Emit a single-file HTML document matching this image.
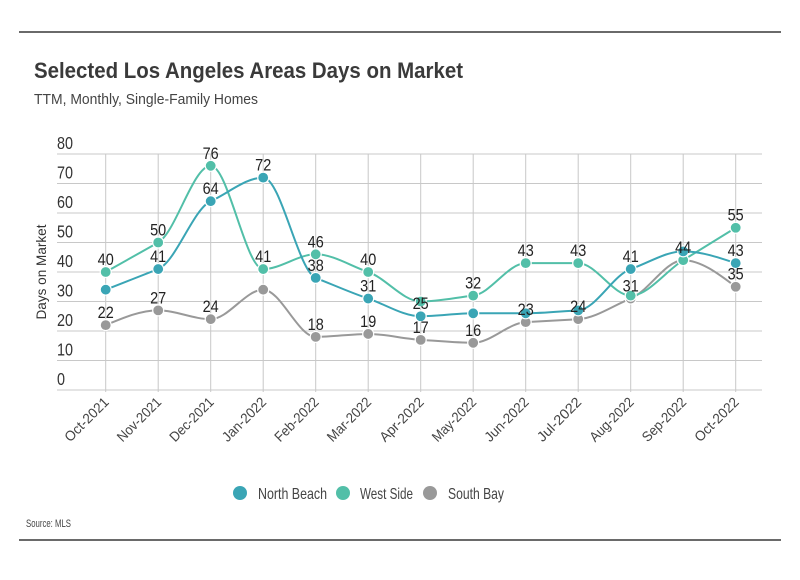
<!DOCTYPE html>
<html><head><meta charset="utf-8"><style>
body{margin:0;background:#fff;width:800px;height:575px;overflow:hidden}
svg text{font-family:"Liberation Sans Narrow","Liberation Sans",sans-serif}
</style></head><body>
<svg id="c" width="800" height="575">
<line x1="19" y1="32" x2="781" y2="32" stroke="#111" stroke-width="1.3"/>
<text x="34" y="78" font-size="22" font-weight="bold" fill="#3a3a3a" textLength="429" lengthAdjust="spacingAndGlyphs">Selected Los Angeles Areas Days on Market</text>
<text x="34" y="104" font-size="15" fill="#444" textLength="224" lengthAdjust="spacingAndGlyphs">TTM, Monthly, Single-Family Homes</text>
<text transform="translate(46,272) rotate(-90)" text-anchor="middle" font-size="14" fill="#333" textLength="95" lengthAdjust="spacingAndGlyphs">Days on Market</text>
<g id="grid"></g><g id="series"></g><g id="xl"></g>
<g>
<circle cx="240" cy="493" r="7" fill="#3aa5b5"/>
<text x="258" y="499" font-size="16" fill="#444" textLength="69" lengthAdjust="spacingAndGlyphs">North Beach</text>
<circle cx="343" cy="493" r="7" fill="#52bfa8"/>
<text x="360" y="499" font-size="16" fill="#444" textLength="53" lengthAdjust="spacingAndGlyphs">West Side</text>
<circle cx="430" cy="493" r="7" fill="#999"/>
<text x="448" y="499" font-size="16" fill="#444" textLength="56" lengthAdjust="spacingAndGlyphs">South Bay</text>
</g>
<text x="26" y="527" font-size="11" fill="#444" textLength="45" lengthAdjust="spacingAndGlyphs">Source:  MLS</text>
<line x1="19" y1="540" x2="781" y2="540" stroke="#111" stroke-width="1.3"/>
</svg>
<script>
const categories=["Oct-2021","Nov-2021","Dec-2021","Jan-2022","Feb-2022","Mar-2022","Apr-2022","May-2022","Jun-2022","Jul-2022","Aug-2022","Sep-2022","Oct-2022"];
const northBeach=[34,41,64,72,38,31,25,26,26,27,41,47,43];
const westSide=[40,50,76,41,46,40,30,32,43,43,32,44,55];
const southBay=[22,27,24,34,18,19,17,16,23,24,31,44,35];
const northBeachLabels=[null,41,64,72,38,31,25,null,null,null,41,null,43];
const westSideLabels=[40,50,76,41,46,40,null,32,43,43,null,null,55];
const southBayLabels=[22,27,24,null,18,19,17,16,23,24,31,44,35];
const yTicks=[0,10,20,30,40,50,60,70,80];
const NS="http://www.w3.org/2000/svg";
const x=i=>105.7+i*52.5;
const y=v=>390-v*2.95;
function mk(t,a,p){const e=document.createElementNS(NS,t);for(const k in a)e.setAttribute(k,a[k]);p.appendChild(e);return e;}
const grid=document.getElementById('grid');
yTicks.forEach(t=>{
 const l=mk('line',{x1:57,x2:762,y1:y(t),y2:y(t),stroke:'#c8c8c8','stroke-width':1},grid);
 
 
 const tx=mk('text',{x:57,y:y(t)-5,'font-size':18,fill:'#333',transform:`translate(57,0) scale(0.8,1) translate(-57,0)`},grid);tx.textContent=t;
 
 
});
const xl=document.getElementById('xl');
categories.forEach((c,i)=>{
 const l=mk('line',{x1:x(i),x2:x(i),y1:154,y2:392,stroke:'#c8c8c8','stroke-width':1},grid);
 
 
 const t=mk('text',{transform:`translate(${x(i)+4},${403}) rotate(-45)`,'text-anchor':'end','font-size':14,fill:'#444',textLength:56,lengthAdjust:'spacingAndGlyphs'},xl);t.textContent=c;
 
 
});
function path(vals){
 const n=vals.length,X=vals.map((v,i)=>x(i)),Y=vals.map(v=>y(v));
 const s=[];for(let i=0;i<n-1;i++)s.push((Y[i+1]-Y[i])/(X[i+1]-X[i]));
 const m=[];
 for(let i=0;i<n;i++){
  if(i===0)m.push(s[0]);else if(i===n-1)m.push(s[n-2]);
  else{const a=s[i-1],b=s[i];if(a*b<=0)m.push(0);else{const h=X[i+1]-X[i];m.push(3*a*b/(2*a+b+0||1)*0+ (Math.sign(a)*Math.min(Math.abs(a),Math.abs(b),0.5*Math.abs((a+b)/2)*2)));}}
 }
 // endpoints like d3 monotone
 m[0]=(3*s[0]-m[1])/2; if(m[0]*s[0]<=0)m[0]=0;
 m[n-1]=(3*s[n-2]-m[n-2])/2; if(m[n-1]*s[n-2]<=0)m[n-1]=0;
 let d=`M${X[0]},${Y[0]}`;
 for(let i=0;i<n-1;i++){const h=(X[i+1]-X[i])/3;
  d+=` C${X[i]+h},${Y[i]+m[i]*h} ${X[i+1]-h},${Y[i+1]-m[i+1]*h} ${X[i+1]},${Y[i+1]}`;}
 return d;}
const sg=document.getElementById('series');
[[southBay,southBayLabels,'#999','south-bay'],[westSide,westSideLabels,'#52bfa8','west-side'],[northBeach,northBeachLabels,'#3aa5b5','north-beach']].forEach(([vals,labs,col,nm])=>{
 const g=mk('g',{},sg);
 
 
 const pl=mk('path',{d:path(vals),fill:'none',stroke:col,'stroke-width':2},g);
 
 
 vals.forEach((v,i)=>{
  const c=mk('circle',{cx:x(i),cy:y(v),r:5.5,fill:col,stroke:'#fff','stroke-width':1.2},g);
  
  
 });
});
[[southBay,southBayLabels,'south-bay'],[westSide,westSideLabels,'west-side'],[northBeach,northBeachLabels,'north-beach']].forEach(([vals,labs,nm])=>{
 vals.forEach((v,i)=>{if(labs[i]==null)return;
  const t=mk('text',{x:x(i),y:y(v)-7,'text-anchor':'middle','font-size':17,fill:'#222',transform:`translate(${x(i)},0) scale(0.85,1) translate(${-x(i)},0)`},sg);t.textContent=labs[i];
  
  
 });
});
</script>
</body></html>
